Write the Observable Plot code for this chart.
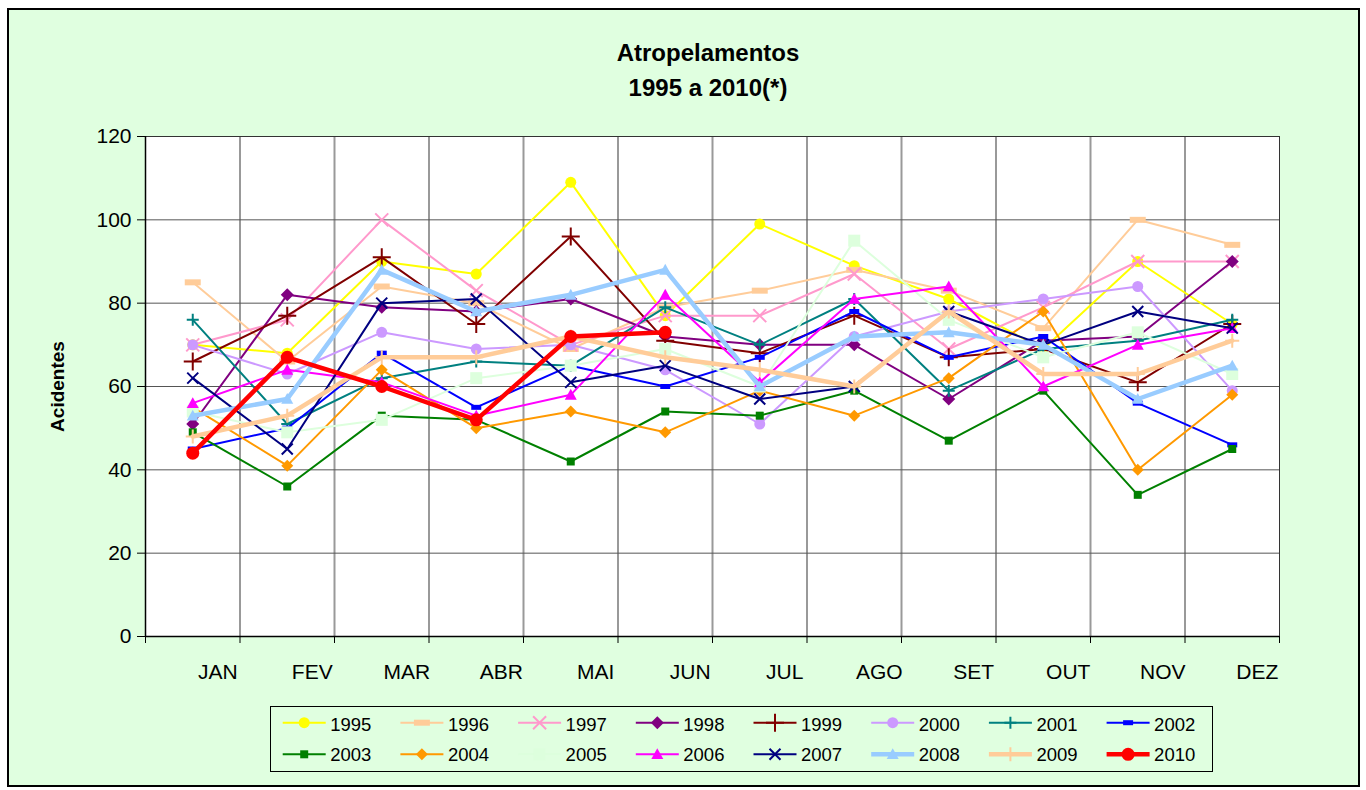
<!DOCTYPE html>
<html>
<head>
<meta charset="utf-8">
<script src="https://cdn.jsdelivr.net/npm/d3@7"></script>
<script src="https://cdn.jsdelivr.net/npm/@observablehq/plot@0.6"></script>
<style>
  html, body { margin: 0; padding: 0; background: #fff; }
  #wrap { position: relative; width: 1366px; height: 790px; overflow: hidden; font-family: Arial, "Liberation Sans", sans-serif; }
  #bg { position: absolute; left: 7px; top: 8px; width: 1349px; height: 775px; border: 2px solid #000; background: #E0FFE0; }
  .title { position: absolute; left: 0; width: 1416px; text-align: center; font-weight: bold; font-size: 24px; line-height: 24px; color: #000; white-space: nowrap; }
  #chart { position: absolute; left: 0; top: 0; }
  #legend { position: absolute; left: 270px; top: 706px; }
</style>
</head>
<body>
<div id="wrap">
  <div id="bg"></div>
  <div class="title" style="top:41px">Atropelamentos</div>
  <div class="title" style="top:76px">1995 a 2010(*)</div>
  <div id="chart"></div>
  <div id="legend"></div>
</div>
<script>
// ---------- data ----------
const months = ["JAN","FEV","MAR","ABR","MAI","JUN","JUL","AGO","SET","OUT","NOV","DEZ"];
const yTicks = [0, 20, 40, 60, 80, 100, 120];
const years = ["1995","1996","1997","1998","1999","2000","2001","2002","2003","2004","2005","2006","2007","2008","2009","2010"];

const v1995 = [70, 68, 90, 87, 109, 77, 99, 89, 81, 69, 90, 75];
const v1996 = [85, 66, 84, 80, 69, 79, 83, 88, 83, 74, 100, 94];
const v1997 = [70, 76, 100, 83, 70, 77, 77, 87, 69, 79, 90, 90];
const v1998 = [51, 82, 79, 78, 81, 72, 70, 70, 57, 71, 72, 90];
const v1999 = [66, 77, 91, 75, 96, 71, 68, 77, 67, 69, 61, 75];
const v2000 = [70, 63, 73, 69, 70, 64, 51, 72, 78, 81, 84, 59];
const v2001 = [76, 51, 62, 66, 65, 79, 70, 81, 59, 69, 71, 76];
const v2002 = [45, 50, 68, 55, 65, 60, 67, 78, 67, 72, 56, 46];
const v2003 = [49, 36, 53, 52, 42, 54, 53, 59, 47, 59, 34, 45];
const v2004 = [55, 41, 64, 50, 54, 49, 59, 53, 62, 78, 40, 58];
const v2005 = [54, 49, 52, 62, 65, 69, 60, 95, 76, 67, 73, 63];
const v2006 = [56, 64, 61, 53, 58, 82, 61, 81, 84, 60, 70, 74];
const v2007 = [62, 45, 80, 81, 61, 65, 57, 60, 78, 70, 78, 74];
const v2008 = [53, 57, 88, 78, 82, 88, 60, 72, 73, 70, 57, 65];
const v2009 = [48, 53, 67, 67, 72, 67, 64, 60, 78, 63, 63, 71];
const v2010 = [44, 67, 60, 52, 72, 73];

const seriesValues = [v1995, v1996, v1997, v1998, v1999, v2000, v2001, v2002,
                      v2003, v2004, v2005, v2006, v2007, v2008, v2009, v2010];

// ---------- styles ----------
const colors = ["#FFFF00","#FFCC99","#FF99CC","#800080","#800000","#CC99FF","#008080","#0000FF",
                "#008000","#FF9900","#DDFFDD","#FF00FF","#000080","#99CCFF","#FFCC99","#FF0000"];
const widths = [2,2,2,2,2,2,2,2, 2,2,2,2,2,4.5,4.5,4.5];

const S = {
  circle: r => ({draw(c){ c.moveTo(r,0); c.arc(0,0,r,0,2*Math.PI); c.closePath(); }}),
  dash: (w,h) => ({draw(c){ c.rect(-w/2,-h/2,w,h); }}),
  square: s => ({draw(c){ c.rect(-s/2,-s/2,s,s); }}),
  diamond: s => ({draw(c){ c.moveTo(0,-s); c.lineTo(s,0); c.lineTo(0,s); c.lineTo(-s,0); c.closePath(); }}),
  triangle: s => ({draw(c){ c.moveTo(0,-s); c.lineTo(s,s*0.8); c.lineTo(-s,s*0.8); c.closePath(); }}),
  times: s => ({draw(c){ c.moveTo(-s,-s); c.lineTo(s,s); c.moveTo(-s,s); c.lineTo(s,-s); }}),
  plus: s => ({draw(c){ c.moveTo(-s,0); c.lineTo(s,0); c.moveTo(0,-s); c.lineTo(0,s); }})
};
// [symbol, filled?]
const markers = [
  [S.circle(5.5), true],      // 1995
  [S.dash(16,6), true],       // 1996
  [S.times(6.5), false],      // 1997
  [S.diamond(6.5), true],     // 1998
  [S.plus(9), false],         // 1999
  [S.circle(5.5), true],      // 2000
  [S.plus(6), false],         // 2001
  [S.dash(10,5), true],       // 2002
  [S.square(8), true],        // 2003
  [S.diamond(6), true],       // 2004
  [S.square(12), true],       // 2005
  [S.triangle(6), true],      // 2006
  [S.times(5.5), false],      // 2007
  [S.triangle(6), true],      // 2008
  [S.plus(7), false],         // 2009
  [S.circle(6.5), true]       // 2010
];

// ---------- table ----------
const table = [];
years.forEach((yr, i) => {
  seriesValues[i].forEach((v, j) => {
    table.push({year: yr, month: months[j], xi: months.indexOf(months[j]) + 0.5, value: v});
  });
});

// ---------- chart ----------
const seriesMarks = [];
years.forEach((yr, i) => {
  const d = table.filter(r => r.year === yr);
  seriesMarks.push(Plot.line(d, {x: "xi", y: "value", stroke: colors[i], strokeWidth: widths[i], strokeLinejoin: "miter"}));
  const [sym, filled] = markers[i];
  seriesMarks.push(Plot.dot(d, filled
    ? {x: "xi", y: "value", r: 5, symbol: sym, fill: colors[i], stroke: "none"}
    : {x: "xi", y: "value", r: 5, symbol: sym, fill: "none", stroke: colors[i], strokeWidth: 2}));
});

const chart = Plot.plot({
  width: 1366,
  height: 700,
  marginLeft: 145,
  marginRight: 87,
  marginTop: 136,
  marginBottom: 64,
  style: {background: "transparent", fontFamily: "Arial, 'Liberation Sans', sans-serif", fontSize: "21px", color: "#000", overflow: "visible"},
  x: {type: "linear", domain: [0, months.length], axis: null},
  y: {domain: [0, 120], axis: null},
  marks: [
    Plot.frame({fill: "white"}),
    Plot.ruleX(d3.range(1, months.length), {stroke: "#999", strokeWidth: 2}),
    Plot.ruleY(yTicks.slice(1, -1), {stroke: "#555", strokeWidth: 1}),
    Plot.frame({stroke: "#333", strokeWidth: 1}),
    Plot.ruleY([0], {stroke: "#000", strokeWidth: 1.5}),
    Plot.ruleX([0], {stroke: "#000", strokeWidth: 1.5}),
    Plot.axisY({ticks: yTicks, tickSize: 8, tickPadding: 6, tickFormat: d => String(d), label: null, stroke: "#000", fontSize: 21}),
    Plot.axisX({ticks: d3.range(0, months.length + 1), tickSize: 7, tickFormat: () => "", label: null, stroke: "#000"}),
    Plot.axisX({ticks: months.map((m, i) => i + 0.5), tickSize: 0, tickPadding: 28, dx: 25,
                tickFormat: v => months[Math.round(v - 0.5)], label: null, fontSize: 21}),
    Plot.text(["Acidentes"], {frameAnchor: "left", dx: -88, rotate: -90, textAnchor: "middle",
                              fontWeight: "bold", fontSize: 19, fill: "#000"}),
    ...seriesMarks
  ]
});
document.getElementById("chart").appendChild(chart);

// ---------- legend ----------
const LW = 943, LH = 66;
const lsvg = d3.select("#legend").append("svg")
  .attr("width", LW).attr("height", LH)
  .style("overflow", "visible");
lsvg.append("rect").attr("x", 0.5).attr("y", 0.5).attr("width", LW - 1).attr("height", LH - 1)
  .attr("fill", "none").attr("stroke", "#000").attr("stroke-width", 1);
years.forEach((yr, i) => {
  const col = i % 8, row = Math.floor(i / 8);
  const x0 = 12.7 + col * 117.7;
  const ly = row === 0 ? 16.7 : 48.3;
  const by = row === 0 ? 24.7 : 54.7;
  const g = lsvg.append("g");
  g.append("line").attr("x1", x0).attr("x2", x0 + 43).attr("y1", ly).attr("y2", ly)
    .attr("stroke", colors[i]).attr("stroke-width", widths[i]);
  const [sym, filled] = markers[i];
  const p = d3.path(); sym.draw(p);
  g.append("path").attr("d", p.toString()).attr("transform", `translate(${x0 + 21.5},${ly})`)
    .attr("fill", filled ? colors[i] : "none").attr("stroke", filled ? "none" : colors[i])
    .attr("stroke-width", filled ? 0 : 2);
  g.append("text").attr("x", x0 + 47.5).attr("y", by).text(yr)
    .attr("font-family", "Arial, 'Liberation Sans', sans-serif").attr("font-size", 18.5).attr("fill", "#000");
});
</script>
</body>
</html>
